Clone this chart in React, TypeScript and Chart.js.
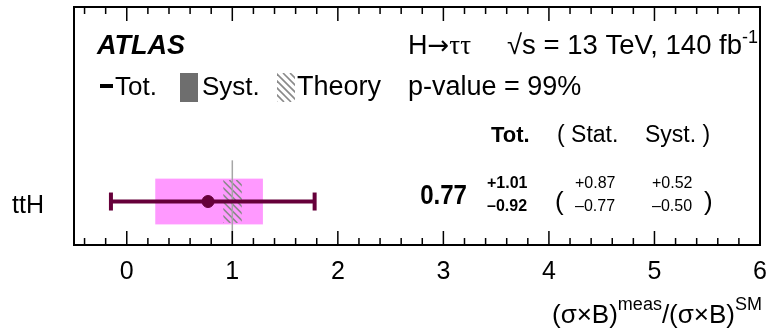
import React, { useEffect, useRef } from "react";
import { Chart, registerables } from "chart.js";

Chart.register(...registerables);

// Measurement categories and results (signal strength relative to SM)
const categories = ["ttH"];
const central = [0.77];
const totUp = [1.01];
const totDown = [0.92];
const statUp = [0.87];
const statDown = [0.77];
const systUp = [0.52];
const systDown = [0.5];
const theoryUp = [0.09];
const theoryDown = [0.085];

const smValue = 1;
const pValueText = "99%";
const xMin = -0.5;
const xMax = 6;
const xTickValues = [0, 1, 2, 3, 4, 5, 6];

const SANS = "'Liberation Sans', Arial, Helvetica, sans-serif";
const SERIF = "'Liberation Serif', 'Times New Roman', serif";
const ARROW = "'DejaVu Sans', sans-serif";
const MAROON = "#66003a";
const PINK = "#ff99ff";

type Run = { text: string; font: string; dy?: number };

function runsWidth(ctx: CanvasRenderingContext2D, runs: Run[]) {
  let w = 0;
  for (const r of runs) {
    ctx.font = r.font;
    w += ctx.measureText(r.text).width;
  }
  return w;
}

function drawRuns(
  ctx: CanvasRenderingContext2D,
  x: number,
  y: number,
  runs: Run[],
  align: "left" | "right" = "left",
  sx = 1
) {
  ctx.save();
  const w = runsWidth(ctx, runs) * sx;
  const startX = align === "right" ? x - w : x;
  ctx.translate(startX, y);
  ctx.scale(sx, 1);
  ctx.textAlign = "left";
  ctx.textBaseline = "alphabetic";
  let cx = 0;
  for (const r of runs) {
    ctx.font = r.font;
    ctx.fillText(r.text, cx, r.dy || 0);
    cx += ctx.measureText(r.text).width;
  }
  ctx.restore();
}

function fmtSigned(v: number, sign: string) {
  return sign + v.toFixed(2);
}

function hatch(ctx: CanvasRenderingContext2D, x: number, y: number, w: number, h: number, gap: number) {
  ctx.save();
  ctx.beginPath();
  ctx.rect(x, y, w, h);
  ctx.clip();
  ctx.strokeStyle = "#8a8a8a";
  ctx.lineWidth = 1.6;
  for (let k = -h - gap; k < w + gap; k += gap) {
    ctx.beginPath();
    ctx.moveTo(x + k, y);
    ctx.lineTo(x + k + h, y + h);
    ctx.stroke();
  }
  ctx.restore();
}

// Draws the frame, the inward ticks, the boxes and all annotation text
const overlayPlugin = {
  id: "overlay",
  beforeDatasetsDraw(chart: any) {
    const ctx: CanvasRenderingContext2D = chart.ctx;
    const xs = chart.scales.x;
    const ys = chart.scales.y;
    categories.forEach((_, i) => {
      const c = central[i];
      const yTop = ys.getPixelForValue(-i + 0.5);
      const yBot = ys.getPixelForValue(-i - 0.5);
      // systematic box
      const sx0 = xs.getPixelForValue(c - systDown[i]);
      const sx1 = xs.getPixelForValue(c + systUp[i]);
      ctx.fillStyle = PINK;
      ctx.fillRect(sx0, yTop, sx1 - sx0, yBot - yTop);
      // theory hatch around the SM expectation
      const tx0 = xs.getPixelForValue(smValue - theoryDown[i]);
      const tx1 = xs.getPixelForValue(smValue + theoryUp[i]);
      const hy0 = ys.getPixelForValue(-i + 0.47);
      const hy1 = ys.getPixelForValue(-i - 0.47);
      hatch(ctx, tx0, hy0, tx1 - tx0, hy1 - hy0, 7);
    });
  },
  afterDatasetsDraw(chart: any) {
    const ctx: CanvasRenderingContext2D = chart.ctx;
    const xs = chart.scales.x;
    const ys = chart.scales.y;
    ctx.save();
    // error bar caps
    categories.forEach((_, i) => {
      const c = central[i];
      const y = ys.getPixelForValue(-i);
      ctx.strokeStyle = MAROON;
      ctx.lineWidth = 4;
      for (const v of [c - totDown[i], c + totUp[i]]) {
        const px = xs.getPixelForValue(v);
        ctx.beginPath();
        ctx.moveTo(px, y - 9);
        ctx.lineTo(px, y + 9);
        ctx.stroke();
      }
    });
    ctx.restore();
  },
  afterDraw(chart: any) {
    const ctx: CanvasRenderingContext2D = chart.ctx;
    const a = chart.chartArea;
    const xs = chart.scales.x;
    const ys = chart.scales.y;
    ctx.save();
    // frame
    ctx.strokeStyle = "#000";
    ctx.lineWidth = 2;
    ctx.strokeRect(a.left, a.top, a.right - a.left, a.bottom - a.top);
    // inward ticks on bottom and top
    ctx.lineWidth = 1.5;
    for (let k = Math.ceil(xMin * 5); k <= Math.floor(xMax * 5); k++) {
      const v = k / 5;
      const major = k % 5 === 0;
      const len = major ? 14 : 7;
      const px = xs.getPixelForValue(v);
      ctx.beginPath();
      ctx.moveTo(px, a.bottom);
      ctx.lineTo(px, a.bottom - len);
      ctx.moveTo(px, a.top);
      ctx.lineTo(px, a.top + len);
      ctx.stroke();
    }

    ctx.fillStyle = "#000";
    // header
    drawRuns(ctx, 97, 54, [{ text: "ATLAS", font: `italic bold 27px ${SANS}` }]);
    drawRuns(ctx, 408, 54, [
      { text: "H", font: `27px ${SANS}` },
      { text: "\u2192", font: `26px ${ARROW}` },
      { text: "\u03c4\u03c4", font: `27px ${SERIF}` },
    ]);
    drawRuns(ctx, 758, 54, [
      { text: "\u221as = 13 TeV, 140 fb", font: `27.5px ${SANS}` },
      { text: "-1", font: `18px ${SANS}`, dy: -11 },
    ], "right");

    // legend row
    const rowY = 95;
    ctx.fillStyle = "#000";
    ctx.fillRect(100, 84, 13, 4);
    drawRuns(ctx, 115, rowY, [{ text: "Tot.", font: `26px ${SANS}` }]);
    ctx.fillStyle = "#6e6e6e";
    ctx.fillRect(180, 73, 18, 29);
    ctx.fillStyle = "#000";
    drawRuns(ctx, 202, rowY, [{ text: "Syst.", font: `26px ${SANS}` }]);
    hatch(ctx, 277, 73, 18, 29, 7);
    ctx.fillStyle = "#000";
    drawRuns(ctx, 297, rowY, [{ text: "Theory", font: `27px ${SANS}` }]);
    drawRuns(ctx, 408, rowY, [{ text: "p-value = " + pValueText, font: `27px ${SANS}` }]);

    // column headers
    drawRuns(ctx, 491, 142, [{ text: "Tot.", font: `bold 22px ${SANS}` }]);
    drawRuns(ctx, 557, 142, [{ text: "( Stat.", font: `23px ${SANS}` }]);
    drawRuns(ctx, 645, 142, [{ text: "Syst. )", font: `23px ${SANS}` }]);

    // values per row
    categories.forEach((_, i) => {
      const y = ys.getPixelForValue(-i);
      drawRuns(ctx, 467, y + 2, [{ text: central[i].toFixed(2), font: `bold 28px ${SANS}` }], "right", 0.86);
      drawRuns(ctx, 487, y - 14, [{ text: fmtSigned(totUp[i], "+"), font: `bold 16px ${SANS}` }]);
      drawRuns(ctx, 487, y + 9, [{ text: fmtSigned(totDown[i], "\u2013"), font: `bold 16px ${SANS}` }]);
      drawRuns(ctx, 555, y + 8, [{ text: "(", font: `26px ${SANS}` }]);
      drawRuns(ctx, 575, y - 14, [{ text: fmtSigned(statUp[i], "+"), font: `16px ${SANS}` }]);
      drawRuns(ctx, 575, y + 9, [{ text: fmtSigned(statDown[i], "\u2013"), font: `16px ${SANS}` }]);
      drawRuns(ctx, 652, y - 14, [{ text: fmtSigned(systUp[i], "+"), font: `16px ${SANS}` }]);
      drawRuns(ctx, 652, y + 9, [{ text: fmtSigned(systDown[i], "\u2013"), font: `16px ${SANS}` }]);
      drawRuns(ctx, 704, y + 8, [{ text: ")", font: `26px ${SANS}` }]);
    });

    // axis title
    drawRuns(ctx, 762, 323, [
      { text: "(\u03c3\u00d7B)", font: `26px ${SANS}` },
      { text: "meas", font: `18px ${SANS}`, dy: -13 },
      { text: "/(\u03c3\u00d7B)", font: `26px ${SANS}` },
      { text: "SM", font: `18px ${SANS}`, dy: -13 },
    ], "right");
    ctx.restore();
  },
};

export default function App() {
  const ref = useRef<HTMLCanvasElement | null>(null);

  useEffect(() => {
    if (!ref.current) return;
    const rows = categories.map((_, i) => -i);
    const chart = new Chart(ref.current, {
      type: "scatter",
      data: {
        datasets: [
          {
            type: "scatter",
            label: "central",
            data: categories.map((_, i) => ({ x: central[i], y: rows[i] })),
            backgroundColor: MAROON,
            borderColor: MAROON,
            pointRadius: 6,
            pointHoverRadius: 6,
            order: 0,
          } as any,
          ...(categories.map((_, i) => ({
            type: "line",
            label: "tot " + categories[i],
            data: [
              { x: central[i] - totDown[i], y: rows[i] },
              { x: central[i] + totUp[i], y: rows[i] },
            ],
            borderColor: MAROON,
            borderWidth: 4,
            pointRadius: 0,
            showLine: true,
            order: 1,
          })) as any),
          {
            type: "line",
            label: "SM",
            data: [
              { x: smValue, y: -0.95 },
              { x: smValue, y: 0.9 },
            ],
            borderColor: "#a6a6a6",
            borderWidth: 1.5,
            pointRadius: 0,
            showLine: true,
            order: 2,
          } as any,
        ],
      },
      options: {
        animation: false,
        responsive: false,
        maintainAspectRatio: false,
        layout: { padding: { top: 7, right: 5, left: 0, bottom: 0 } },
        plugins: { legend: { display: false }, tooltip: { enabled: false } },
        events: [],
        scales: {
          x: {
            type: "linear",
            min: xMin,
            max: xMax,
            afterBuildTicks: (s: any) => {
              s.ticks = xTickValues.map((v) => ({ value: v }));
            },
            afterFit: (s: any) => {
              s.height = 84;
              s.paddingLeft = 0;
              s.paddingRight = 0;
            },
            grid: { display: false, drawTicks: false },
            border: { display: false },
            ticks: {
              color: "#000",
              padding: 12,
              maxRotation: 0,
              font: { family: SANS, size: 25 },
              callback: (v: any) => String(v),
            },
          },
          y: {
            type: "linear",
            min: -0.95,
            max: 4.25,
            afterBuildTicks: (s: any) => {
              s.ticks = categories.map((_, i) => ({ value: -i }));
            },
            afterFit: (s: any) => {
              s.width = 74;
              s.paddingTop = 0;
              s.paddingBottom = 0;
            },
            grid: { display: false, drawTicks: false },
            border: { display: false },
            ticks: {
              color: "#000",
              padding: 30,
              labelOffset: 5,
              font: { family: SANS, size: 25 },
              callback: (_v: any, i: number) => categories[i],
            },
          },
        },
      },
      plugins: [overlayPlugin],
    } as any);
    return () => chart.destroy();
  }, []);

  return (
    <div style={{ position: "fixed", left: 0, top: 0, width: 767, height: 329, background: "#fff" }}>
      <canvas ref={ref} width={767} height={329} style={{ width: 767, height: 329, display: "block" }} />
    </div>
  );
}
